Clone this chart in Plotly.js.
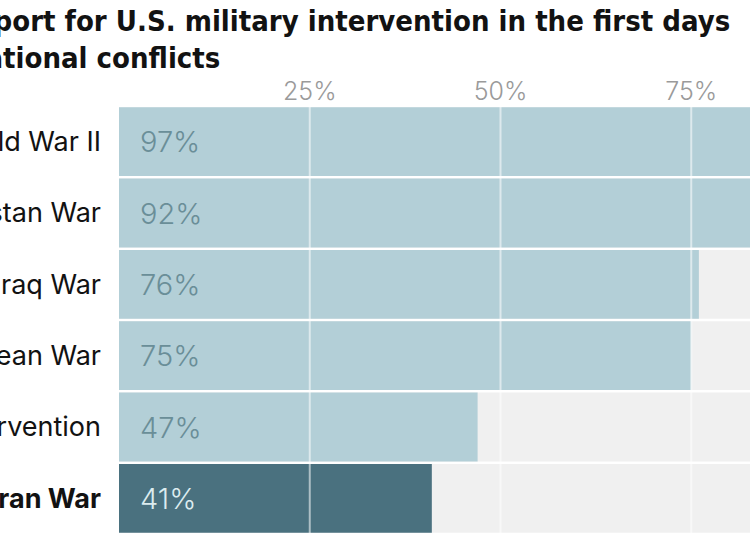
<!DOCTYPE html>
<html>
<head>
<meta charset="utf-8">
<script src="https://cdn.plot.ly/plotly-3.0.1.min.js"></script>
<style>html,body{margin:0;padding:0;background:#fff;}#chart{width:750px;height:536px;}</style>
</head>
<body>
<div id="chart"></div>
<script>
const categories = ["World War II", "Afghanistan War", "Iraq War", "Korean War", "Libya intervention", "Iran War"];
const support = [97, 92, 76, 75, 47, 41];
const highlight = [false, false, false, false, false, true];
const fullScale = [100, 100, 100, 100, 100, 100];
const tickValues = [25, 50, 75];
const tickLabels = ["25%", "50%", "75%"];
const titleLine1 = "Public support for U.S. military intervention in the first days";
const titleLine2 = "of international conflicts";

const lightBar = "#b3cfd7";
const darkBar = "#4a717f";

const traces = [
  {
    type: "bar", orientation: "h",
    y: categories, x: fullScale,
    marker: {color: "#f0f0f0"},
    width: 0.965, hoverinfo: "skip"
  },
  {
    type: "bar", orientation: "h",
    y: categories, x: support,
    marker: {color: highlight.map(h => h ? darkBar : lightBar)},
    width: 0.965, hoverinfo: "skip"
  }
];

const valueFont = {family: "Inter, 'Open Sans', sans-serif", size: 29, weight: 300};

const annotations = categories.map((c, i) => ({
  x: 0, y: c, xref: "x", yref: "y",
  xanchor: "left", yanchor: "middle", xshift: 19,
  text: support[i] + "%", showarrow: false,
  font: Object.assign({}, valueFont, {color: highlight[i] ? "#dcecef" : "#6a8e98"})
}));

const titleFont = {family: "'DejaVu Sans Condensed', sans-serif", size: 29, color: "#121212", weight: 700};

const shapes = tickValues.map(v => ({
  type: "line", layer: "above", xref: "x", yref: "paper",
  x0: v, x1: v, y0: 0, y1: 1,
  line: {color: "rgba(255,255,255,0.55)", width: 2}
}));

const layout = {
  width: 750, height: 536,
  margin: {l: 119, r: 0, t: 106, b: 2},
  paper_bgcolor: "#fff", plot_bgcolor: "#fff",
  barmode: "overlay",
  showlegend: false,
  xaxis: {
    range: [0, 82.7], side: "top",
    tickvals: tickValues, ticktext: tickLabels,
    showgrid: false, zeroline: false, showline: false, ticks: "",
    tickfont: {family: "Inter, 'Open Sans', sans-serif", size: 25, color: "#9a9a9a", weight: 300},
    fixedrange: true
  },
  yaxis: {
    autorange: "reversed",
    tickvals: categories,
    ticktext: categories.map((c, i) => highlight[i] ? "<b>" + c + "</b>" : c),
    showgrid: false, zeroline: false, showline: false, ticks: "",
    ticklabelstandoff: 17,
    tickfont: {family: "Inter, 'Open Sans', sans-serif", size: 27, color: "#121212"},
    automargin: false, fixedrange: true
  },
  annotations: annotations.concat([
    {xref: "paper", yref: "paper", x: (732 - 119) / 631, y: 1 + (106 - 40) / 428,
     xanchor: "right", yanchor: "bottom", text: titleLine1, showarrow: false, font: titleFont},
    {xref: "paper", yref: "paper", x: (222 - 119) / 631, y: 1 + (106 - 77) / 428,
     xanchor: "right", yanchor: "bottom", text: titleLine2, showarrow: false, font: titleFont}
  ]),
  shapes: shapes
};

Plotly.newPlot("chart", traces, layout, {displayModeBar: false, staticPlot: true});
</script>
</body>
</html>
